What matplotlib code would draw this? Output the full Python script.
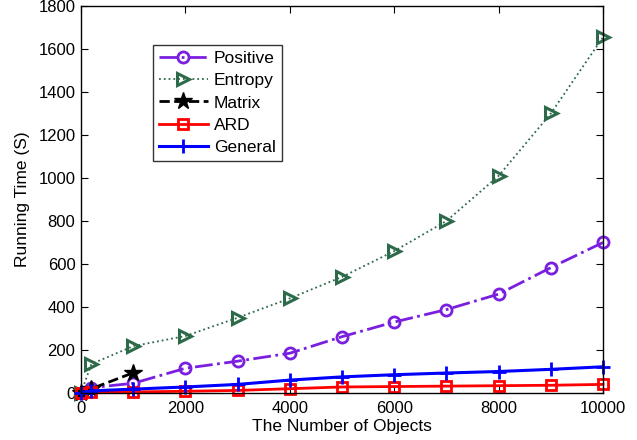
import numpy as np
import matplotlib
matplotlib.use('Agg')
import matplotlib.pyplot as plt

plt.rcParams['font.family'] = ['Liberation Sans', 'DejaVu Sans']

# Data
x = np.array([0, 200, 1000, 2000, 3000, 4000, 5000, 6000, 7000, 8000, 9000, 10000])
positive = np.array([0, 25, 45, 115, 148, 185, 262, 330, 388, 460, 583, 700])
entropy = np.array([0, 135, 218, 265, 350, 440, 540, 660, 800, 1010, 1300, 1655])
x_matrix = np.array([0, 200, 1000])
matrix = np.array([0, 20, 94])
ard = np.array([0, 4, 5, 8, 12, 20, 28, 30, 32, 34, 36, 40])
general = np.array([0, 10, 18, 28, 40, 60, 75, 85, 93, 100, 110, 122])

fig = plt.figure(figsize=(6.37, 4.4), dpi=100)
ax = fig.add_axes([81 / 637, 1 - 393 / 440, 522 / 637, 387 / 440])

purple = '#7a1fe0'
green = '#2d6a4a'

ax.plot(x, positive, linestyle='-.', color=purple, lw=2, marker='o', ms=8,
        mfc='none', mew=2, label='Positive', clip_on=False)
ax.plot(x, entropy, linestyle=':', color=green, lw=1.3, marker='>', ms=9,
        mfc='none', mew=2.2, label='Entropy', clip_on=False)
ax.plot(x_matrix, matrix, linestyle='--', color='black', lw=2, marker='*', ms=13,
        label='Matrix', clip_on=False)
ax.plot(x, ard, linestyle='-', color='red', lw=2, marker='s', ms=7,
        mfc='none', mew=2, label='ARD', clip_on=False)
ax.plot(x, general, linestyle='-', color='blue', lw=2.2, marker='+', ms=10,
        mew=2, label='General', clip_on=False)

ax.set_xlim(0, 10000)
ax.set_ylim(0, 1800)
ax.set_xticks(np.arange(0, 10001, 2000))
ax.set_yticks(np.arange(0, 1801, 200))
ax.tick_params(direction='in', labelsize=12, length=5, top=True, right=True, pad=4)
ax.tick_params(axis='x', pad=6)
for s in ax.spines.values():
    s.set_linewidth(1)
ax.set_xlabel('The Number of Objects', fontsize=12.5, labelpad=2)
ax.set_ylabel('Running Time (S)', fontsize=12.5, labelpad=6)

leg = ax.legend(loc='upper left', bbox_to_anchor=(0.138, 0.899), fontsize=12.5,
                frameon=True, fancybox=False, edgecolor='black', borderaxespad=0,
                handlelength=2.8, borderpad=0.35, labelspacing=0.4, handletextpad=0.35)
leg.get_frame().set_linewidth(1)

fig.savefig('out.png', dpi=100)
